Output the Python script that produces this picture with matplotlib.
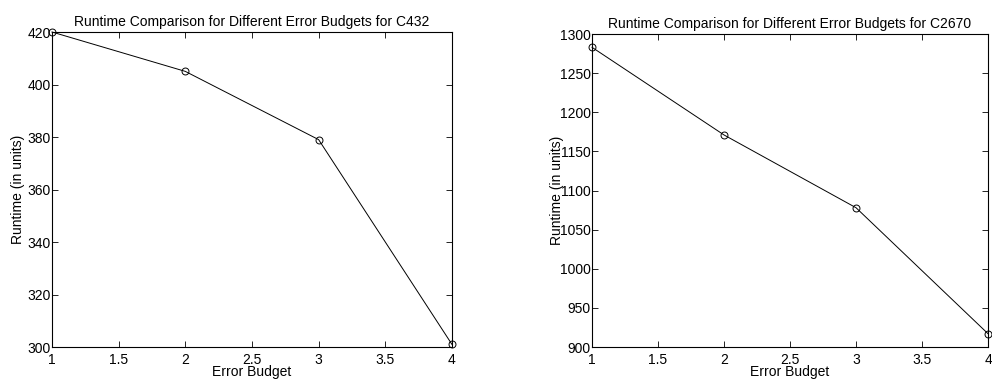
import matplotlib
matplotlib.use("Agg")
import matplotlib.pyplot as plt

# data
budgets = [1, 2, 3, 4]
runtime_c432 = [420, 405, 379, 301]
runtime_c2670 = [1283, 1171, 1078, 917]

plt.rcParams['font.family'] = ['Liberation Sans', 'DejaVu Sans']
plt.rcParams['font.size'] = 10

fig = plt.figure(figsize=(9.92, 3.81), dpi=100)
ax1 = fig.add_axes([0.0524, 0.0892, 0.4032, 0.8268])
ax2 = fig.add_axes([0.5968, 0.0892, 0.3992, 0.8215])


def style(ax, ylim, yticks, title, ylab_x):
    ax.set_xlim(1, 4)
    ax.set_ylim(*ylim)
    ax.set_xticks([1, 1.5, 2, 2.5, 3, 3.5, 4])
    ax.set_xticklabels(['1', '1.5', '2', '2.5', '3', '3.5', '4'])
    ax.set_yticks(yticks)
    ax.tick_params(direction='in', top=True, right=True, length=4, width=0.6, pad=1)
    ax.tick_params(axis='x', pad=4)
    for s in ax.spines.values():
        s.set_linewidth(0.8)
    ax.set_title(title, fontsize=10, pad=4)
    ax.set_xlabel('Error Budget', labelpad=-1)
    ax.set_ylabel('Runtime (in units)')
    ax.yaxis.set_label_coords(ylab_x, 0.5)


ax1.plot(budgets, runtime_c432, color='black', linewidth=0.7, marker='o',
         markersize=5, markerfacecolor='none', markeredgewidth=0.7, clip_on=False)
style(ax1, (300, 420), [300, 320, 340, 360, 380, 400, 420],
      'Runtime Comparison for Different Error Budgets for C432', -0.068)

ax2.plot(budgets, runtime_c2670, color='black', linewidth=0.7, marker='o',
         markersize=5, markerfacecolor='none', markeredgewidth=0.7, clip_on=False)
style(ax2, (900, 1300), [900, 950, 1000, 1050, 1100, 1150, 1200, 1250, 1300],
      'Runtime Comparison for Different Error Budgets for C2670', -0.072)

fig.savefig('out.png', dpi=100)
